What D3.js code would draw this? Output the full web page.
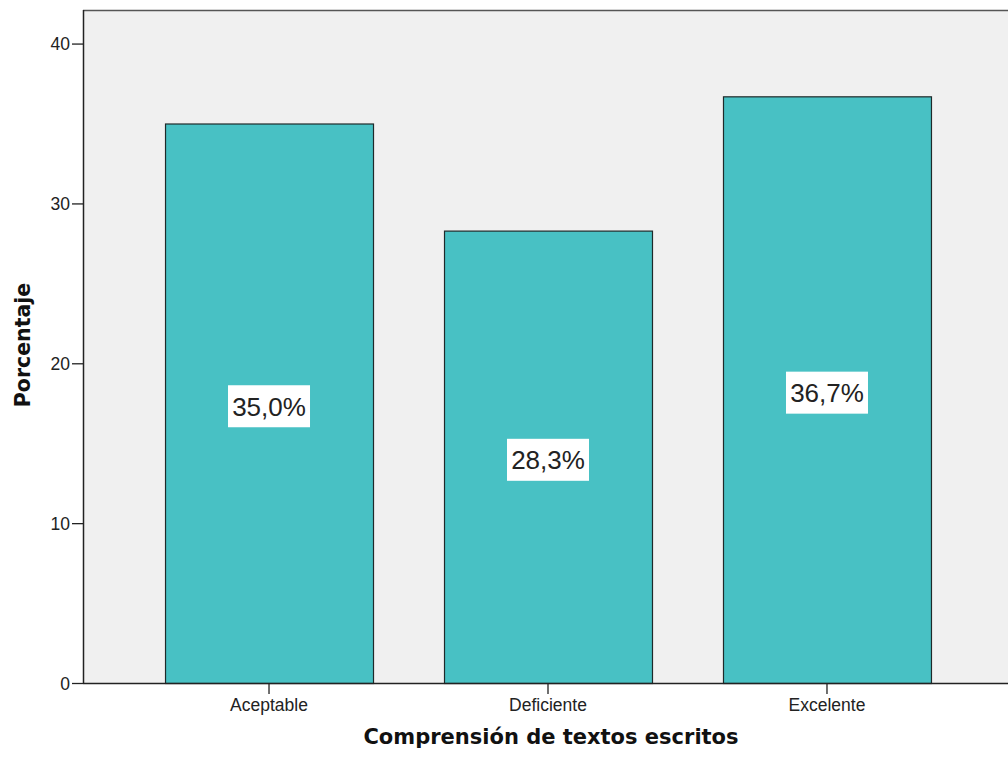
<!DOCTYPE html>
<html><head><meta charset="utf-8">
<script src="https://cdn.jsdelivr.net/npm/d3@7"></script>
<style>body{margin:0;background:#fff}svg{display:block}</style>
</head><body>
<svg id="chart" width="1008" height="760"></svg>
<script>
const categories = ["Aceptable", "Deficiente", "Excelente"];
const values = [35.0, 28.3, 36.7];
const labels = ["35,0%", "28,3%", "36,7%"];
const yTicks = [0, 10, 20, 30, 40];
const xTitle = "Comprensión de textos escritos";
const yTitle = "Porcentaje";

const svg = d3.select("#chart");
const L = 83, R = 1013, T = 10, B = 683;
const x = d3.scaleBand().domain(categories).range([L, R]).paddingInner(0.2545).paddingOuter(0.294);
const y = d3.scaleLinear().domain([0, 42.1]).range([B, T]);

svg.append("rect").attr("x", L).attr("y", T).attr("width", R - L).attr("height", B - T).attr("fill", "#f0f0f0");
svg.append("line").attr("x1", L).attr("x2", R).attr("y1", T + 0.5).attr("y2", T + 0.5).attr("stroke", "#555").attr("stroke-width", 1.5);

svg.selectAll("rect.bar").data(values).join("rect").attr("class", "bar")
  .attr("x", (d, i) => x(categories[i]) + 0.5)
  .attr("y", d => y(d) + 0.5)
  .attr("width", x.bandwidth())
  .attr("height", d => B - y(d))
  .attr("fill", "#48c1c4").attr("stroke", "#1f2a2a").attr("stroke-width", 1.2);

// axes
const yAxis = svg.append("g").attr("transform", `translate(${L},0)`)
  .call(d3.axisLeft(y).tickValues(yTicks).tickSize(11).tickPadding(2));
const xAxis = svg.append("g").attr("transform", `translate(0,${B})`)
  .call(d3.axisBottom(x).tickSize(11).tickPadding(5));
[yAxis, xAxis].forEach(g => {
  g.select(".domain").remove();
  g.selectAll("line").attr("stroke", "#222").attr("stroke-width", 1.3);
  g.selectAll("text").attr("fill", "#222").style("font-family", "Liberation Sans, Arial, sans-serif").style("font-size", "17.5px");
});
yAxis.selectAll("text").attr("dy", "0.35em");
xAxis.selectAll("text").attr("dy", "0.68em");
svg.append("line").attr("x1", L + 0.5).attr("x2", L + 0.5).attr("y1", T).attr("y2", B + 1).attr("stroke", "#222").attr("stroke-width", 1.5);
svg.append("line").attr("x1", L).attr("x2", R).attr("y1", B + 0.5).attr("y2", B + 0.5).attr("stroke", "#222").attr("stroke-width", 1.5);

// value labels
const lg = svg.selectAll("g.lab").data(values).join("g").attr("class", "lab")
  .attr("transform", (d, i) => `translate(${x(categories[i]) + x.bandwidth() / 2},${y(d / 2) + 3})`);
lg.append("rect").attr("x", -41).attr("y", -21).attr("width", 82).attr("height", 42).attr("fill", "#fff");
lg.append("text").text((d, i) => labels[i]).attr("text-anchor", "middle").attr("dy", "0.36em")
  .style("font-family", "Liberation Sans, Arial, sans-serif").style("font-size", "26px").attr("fill", "#222");

svg.append("text").text(xTitle).attr("x", 551).attr("y", 744).attr("text-anchor", "middle")
  .style("font-family", "DejaVu Sans, sans-serif").style("font-weight", "bold").style("font-size", "21px").attr("fill", "#111");
svg.append("text").text(yTitle).attr("transform", "translate(30,345) rotate(-90)").attr("text-anchor", "middle")
  .style("font-family", "DejaVu Sans, sans-serif").style("font-weight", "bold").style("font-size", "20.5px").attr("fill", "#111");
</script>
</body></html>
